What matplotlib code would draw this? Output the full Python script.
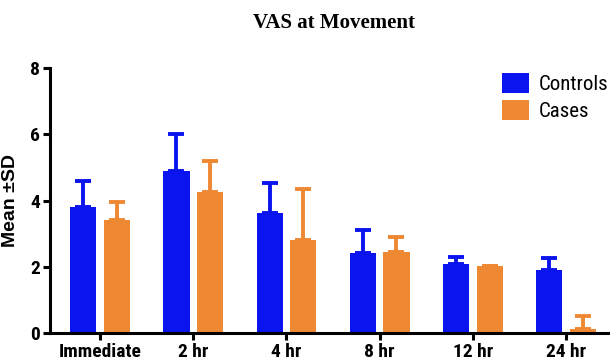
import matplotlib
matplotlib.use("Agg")
import matplotlib.pyplot as plt
import numpy as np
from matplotlib.patches import Patch

categories = ["Immediate", "2 hr", "4 hr", "8 hr", "12 hr", "24 hr"]
controls_mean = [3.80, 4.89, 3.63, 2.41, 2.08, 1.90]
controls_sd = [0.80, 1.11, 0.90, 0.70, 0.22, 0.37]
cases_mean = [3.41, 4.26, 2.81, 2.45, 2.02, 0.12]
cases_sd = [0.55, 0.94, 1.54, 0.45, 0.00, 0.40]
yticks = [0, 2, 4, 6, 8]

narrow = "Roboto Condensed"

blue = "#0A14EE"
orange = "#EE8833"

fig = plt.figure(figsize=(6.1, 3.63), dpi=100)
ax = fig.add_axes([0.082, 0.0826, 0.918, 0.730])

x = np.arange(len(categories))
w = 0.28
off = 0.18
zeros = np.zeros(len(categories))
ax.bar(x - off, controls_mean, w, color=blue, zorder=2)
ax.bar(x + off, cases_mean, w, color=orange, zorder=2)
ax.errorbar(x - off, controls_mean, yerr=[zeros, controls_sd], fmt="none",
            ecolor=blue, elinewidth=2.8, capsize=6, capthick=2.8, zorder=1)
ax.errorbar(x + off, cases_mean, yerr=[zeros, cases_sd], fmt="none",
            ecolor=orange, elinewidth=2.8, capsize=6, capthick=2.8, zorder=1)

ax.set_xlim(-0.536, 5.47)
ax.set_ylim(0, 8)
ax.set_yticks(yticks)
ax.set_xticks(x)
ax.set_xticklabels(categories, fontfamily=narrow, fontweight="bold", fontsize=14)
ax.set_yticklabels([str(t) for t in yticks], fontfamily=narrow, fontweight="bold", fontsize=14)
for s in ["top", "right"]:
    ax.spines[s].set_visible(False)
for s in ["left", "bottom"]:
    ax.spines[s].set_linewidth(2.2)
    ax.spines[s].set_color("black")
ax.tick_params(axis="both", width=2.2, length=5, direction="out", pad=2)

ax.set_ylabel("Mean \u00b1SD", fontfamily="Liberation Sans", fontweight="bold", fontsize=14, labelpad=8)
fig.text(0.548, 0.938, "VAS at Movement", ha="center", va="center",
         fontfamily="Liberation Serif", fontweight="bold", fontsize=15)

handles = [Patch(facecolor=blue, label="Controls"), Patch(facecolor=orange, label="Cases")]
leg = ax.legend(handles=handles, loc="upper right", bbox_to_anchor=(1.02, 1.03), frameon=False,
                prop={"family": narrow, "size": 15}, handlelength=1.3, handleheight=1.1,
                handletextpad=0.5, labelspacing=0.3, borderaxespad=0.2)

fig.savefig("out.png", dpi=100)
